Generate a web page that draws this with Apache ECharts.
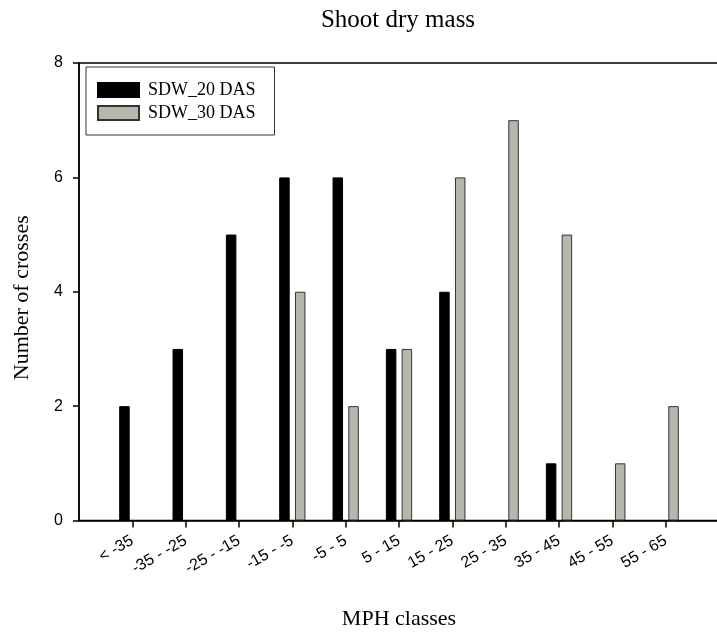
<!DOCTYPE html>
<html>
<head>
<meta charset="utf-8">
<script src="https://cdn.jsdelivr.net/npm/echarts@6/dist/echarts.min.js"></script>
<style>html,body{margin:0;padding:0;background:#fff;}#c{width:717px;height:633px;}</style>
</head>
<body>
<div id="c"></div>
<script>
var categories = ['< -35', '-35 - -25', '-25 - -15', '-15 - -5', '-5 - 5', '5 - 15', '15 - 25', '25 - 35', '35 - 45', '45 - 55', '55 - 65'];
var sdw20 = [2, 3, 5, 6, 6, 3, 4, 0, 1, 0, 0];
var sdw30 = [0, 0, 0, 4, 2, 3, 6, 7, 5, 1, 2];
var yTicks = [0, 2, 4, 6, 8];

var axisCats = [''].concat(categories).concat(['']);
// zero-height bars are not drawn (no visible stub on the axis)
function pad(a) { return [null].concat(a.map(function (v) { return v === 0 ? '-' : v; })).concat([null]); }

var serif = '"Liberation Serif", "Times New Roman", serif';
var sans = '"Liberation Sans", Arial, sans-serif';

var chart = echarts.init(document.getElementById('c'), null, {renderer: 'canvas'});
chart.setOption({
  animation: false,
  backgroundColor: '#fff',
  title: {
    text: 'Shoot dry mass',
    left: 393, textAlign: 'center', top: 3,
    textStyle: {fontFamily: serif, fontSize: 25, fontWeight: 'normal', color: '#000'}
  },
  legend: {
    orient: 'vertical',
    left: 86, top: 67,
    padding: [14, 19, 13, 11],
    itemWidth: 41, itemHeight: 14, itemGap: 5,
    borderColor: '#333', borderWidth: 1,
    icon: 'rect',
    textStyle: {fontFamily: serif, fontSize: 18, color: '#000', padding: [0, 0, 0, 4]},
    data: ['SDW_20 DAS', 'SDW_30 DAS']
  },
  grid: {
    left: 79, top: 63, width: 640, bottom: 112.5,
    outerBoundsMode: 'none',
    show: true, borderColor: '#000', borderWidth: 1.5, containLabel: false
  },
  xAxis: {
    type: 'category',
    data: axisCats,
    boundaryGap: false,
    name: 'MPH classes',
    nameLocation: 'middle',
    nameGap: 88,
    nameTextStyle: {fontFamily: serif, fontSize: 22, color: '#000'},
    axisLine: {lineStyle: {color: '#000', width: 1.5}},
    axisTick: {
      length: 7, lineStyle: {color: '#000', width: 1.5},
      interval: function (i) { return i > 0 && i < axisCats.length - 1; }
    },
    axisLabel: {
      interval: 0, rotate: 30, margin: 19,
      fontFamily: sans, fontSize: 16, color: '#000'
    },
    splitLine: {show: false}
  },
  yAxis: {
    type: 'value',
    min: yTicks[0], max: yTicks[yTicks.length - 1], interval: 2,
    name: 'Number of crosses',
    nameLocation: 'middle',
    nameGap: 46,
    nameTextStyle: {fontFamily: serif, fontSize: 22, color: '#000', padding: [0, 12, 0, 0]},
    axisLine: {show: true, lineStyle: {color: '#000', width: 1.5}},
    axisTick: {show: true, length: 6, lineStyle: {color: '#000', width: 1.5}},
    axisLabel: {margin: 16, fontFamily: sans, fontSize: 16, color: '#000'},
    splitLine: {show: false}
  },
  series: [
    {
      name: 'SDW_20 DAS', type: 'bar', data: pad(sdw20),
      barWidth: 10.5, barGap: '50%',
      itemStyle: {color: '#000', borderColor: '#000', borderWidth: 1}
    },
    {
      name: 'SDW_30 DAS', type: 'bar', data: pad(sdw30),
      barWidth: 10.5, barGap: '50%',
      itemStyle: {color: '#b6b6aa', borderColor: '#333', borderWidth: 1}
    }
  ]
});
</script>
</body>
</html>
